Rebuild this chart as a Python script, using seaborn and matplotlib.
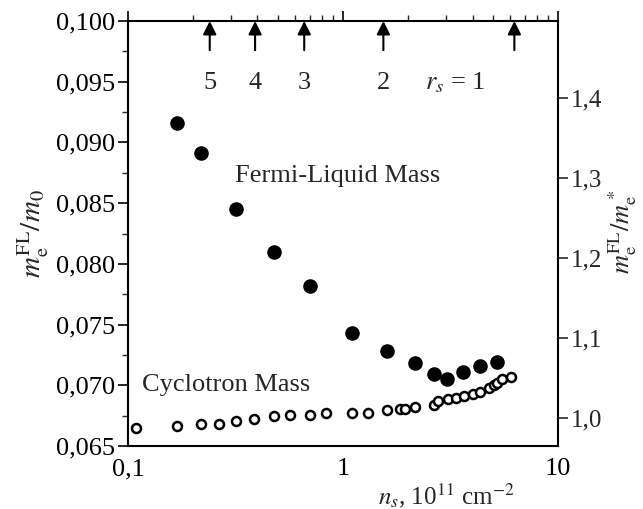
import numpy as np
import pandas as pd
import seaborn as sns
import matplotlib.pyplot as plt
from matplotlib.ticker import FuncFormatter, MultipleLocator, LogLocator, NullFormatter

# --- DATOS ---
fl_ns = [0.169, 0.218, 0.317, 0.476, 0.702, 1.10, 1.60, 2.16, 2.65, 3.05, 3.62, 4.34, 5.20]
fl_mass = [0.0916, 0.0891, 0.0845, 0.0810, 0.0782, 0.0743, 0.0728, 0.0718, 0.0709,
           0.0705, 0.0711, 0.0716, 0.0719]

cyc_ns = [0.109, 0.169, 0.218, 0.266, 0.318, 0.387, 0.476, 0.567, 0.705, 0.829,
          1.105, 1.311, 1.602, 1.841, 1.942, 2.163, 2.65, 2.776, 3.069, 3.343,
          3.654, 4.037, 4.337, 4.762, 5.039, 5.221, 5.49, 6.026]
cyc_mass = [0.06651, 0.06662, 0.06684, 0.06684, 0.06703, 0.0672, 0.06745, 0.06753,
            0.06753, 0.06774, 0.06774, 0.06774, 0.06796, 0.06805, 0.06805, 0.06819,
            0.06838, 0.06873, 0.06885, 0.06898, 0.06912, 0.06928, 0.06947, 0.06975,
            0.07002, 0.07016, 0.07049, 0.07071]

rs_ns = [0.24, 0.39, 0.66, 1.54, 6.26]
rs_labels = ['5', '4', '3', '2', '']

df_fl = pd.DataFrame({'ns': fl_ns, 'mass': fl_mass})
df_cyc = pd.DataFrame({'ns': cyc_ns, 'mass': cyc_mass})

# --- ESTILO ---
sns.set_style("white")
plt.rcParams['font.family'] = ['Liberation Serif', 'DejaVu Serif']
plt.rcParams['mathtext.fontset'] = 'stix'

FS = 19

fig = plt.figure(figsize=(6.43, 5.09), dpi=100)
ax = fig.add_axes([0.199, 0.1238, 0.669, 0.8349])

sns.scatterplot(data=df_fl, x='ns', y='mass', ax=ax, color='black', s=110,
                edgecolor='black', linewidth=0, zorder=3)
sns.scatterplot(data=df_cyc, x='ns', y='mass', ax=ax, facecolor='white', s=42,
                edgecolor='black', linewidth=1.8, zorder=3)

ax.set_xscale('log')
ax.set_xlim(0.1, 10)
ax.set_ylim(0.065, 0.100)

comma = lambda fmt: FuncFormatter(lambda v, p: (fmt % v).replace('.', ','))
ax.yaxis.set_major_locator(MultipleLocator(0.005))
ax.yaxis.set_minor_locator(MultipleLocator(0.0025))
ax.yaxis.set_major_formatter(comma('%.3f'))
ax.xaxis.set_major_locator(LogLocator(base=10))
ax.xaxis.set_minor_locator(LogLocator(base=10, subs=np.arange(2, 10)))
ax.xaxis.set_minor_formatter(NullFormatter())
ax.xaxis.set_major_formatter(FuncFormatter(lambda v, p: ('%g' % v).replace('.', ',')))

ax.tick_params(axis='both', which='major', direction='out', length=7, width=1.2,
               labelsize=FS, colors='black', pad=2)
ax.tick_params(axis='both', which='minor', direction='out', length=4, width=1.0)
ax.tick_params(axis='x', which='both', top=True)
ax.tick_params(axis='y', which='both', left=True)

for sp in ax.spines.values():
    sp.set_linewidth(1.5)
    sp.set_color('black')

ax.set_xlabel('')
ax.set_ylabel(r'$m_\mathrm{e}^\mathrm{FL}/m_0$', fontsize=21, labelpad=4)

# eje derecho
ax2 = ax.twinx()
ax2.set_ylim(0.965, 1.496)
ax2.yaxis.set_major_locator(MultipleLocator(0.1))
ax2.yaxis.set_major_formatter(comma('%.1f'))
ax2.tick_params(axis='y', which='major', direction='out', length=7, width=1.2,
                labelsize=18, right=True, pad=2)
ax2.set_ylabel('')
for sp in ax2.spines.values():
    sp.set_visible(False)
fig.text(0.968, 0.545, r'$m_\mathrm{e}^\mathrm{FL}/m_\mathrm{e}^*$', fontsize=19,
         rotation=90, ha='center', va='center')

# flechas r_s
for x, lab in zip(rs_ns, rs_labels):
    ax.annotate('', xy=(x, 0.100), xytext=(x, 0.0976),
                arrowprops=dict(arrowstyle='-|>', color='black', lw=1.5,
                                mutation_scale=20, shrinkA=0, shrinkB=0))
    if lab:
        ax.text(x, 0.0949, lab, fontsize=FS, ha='center', va='center')
ax.text(3.33, 0.0949, r'$r_s$ = 1', fontsize=FS, ha='center', va='center')

ax.text(0.316, 0.0872, 'Fermi-Liquid Mass', fontsize=FS, ha='left', va='center')
ax.text(0.116, 0.0700, 'Cyclotron Mass', fontsize=FS, ha='left', va='center')

fig.text(0.694, 0.027, r'$n_s$, 10$^{11}$ cm$^{-2}$', fontsize=18, ha='center', va='center')

fig.savefig('out.png', dpi=100)
